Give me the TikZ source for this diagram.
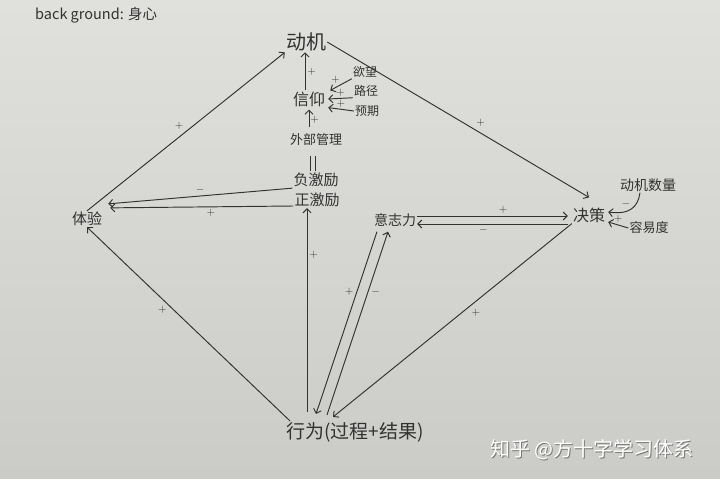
\documentclass[tikz,border=0pt]{standalone}
\usepackage{fontspec}
\setmainfont{Noto Sans CJK SC}
\usetikzlibrary{arrows.meta}
\definecolor{ink}{RGB}{50,50,50}
\definecolor{paperA}{RGB}{224,224,221}
\definecolor{paperB}{RGB}{203,203,199}
\definecolor{wmshadow}{RGB}{120,120,118}
\begin{document}
\begin{tikzpicture}[x=1pt,y=-1pt,
  txt/.style={text=ink, inner sep=1pt},
  ln/.style={draw=ink, line width=0.95pt},
  arr/.style={ln, -{Straight Barb[length=4pt,width=8pt]}},
  sg/.style={text=ink, font=\fontsize{11}{11}\selectfont, inner sep=1pt}
]
\shade[top color=paperA, bottom color=paperB] (0,0) rectangle (720,479);
\useasboundingbox (0,0) rectangle (720,479);

% nodes
\node[txt, font=\fontsize{14.5}{14.5}\selectfont, anchor=west] (bg) at (34,15) {back ground: 身心};
\node[txt, font=\fontsize{20}{20}\selectfont] (dongji) at (306,42) {动机};
\node[txt, font=\fontsize{16}{16}\selectfont] (xinyang) at (309,99) {信仰};
\node[txt, font=\fontsize{12}{12}\selectfont] (yuwang) at (365,72) {欲望};
\node[txt, font=\fontsize{12}{12}\selectfont] (lujing) at (366,91) {路径};
\node[txt, font=\fontsize{12}{12}\selectfont] (yuqi) at (367,111) {预期};
\node[txt, font=\fontsize{13}{13}\selectfont] (waibu) at (316,140) {外部管理};
\node[txt, font=\fontsize{15}{15}\selectfont] (fu) at (316,180) {负激励};
\node[txt, font=\fontsize{15}{15}\selectfont] (zheng) at (317,200) {正激励};
\node[txt, font=\fontsize{15}{15}\selectfont] (tiyan) at (87,219) {体验};
\node[txt, font=\fontsize{14}{14}\selectfont] (yizhi) at (395,220) {意志力};
\node[txt, font=\fontsize{16}{16}\selectfont] (juece) at (589,215) {决策};
\node[txt, font=\fontsize{14}{14}\selectfont] (shuliang) at (648,185) {动机数量};
\node[txt, font=\fontsize{13}{13}\selectfont] (rongyi) at (649,228) {容易度};
\node[txt, font=\fontsize{19}{19}\selectfont] (xingwei) at (355,432) {行为(过程+结果)};

% watermark
\node[font=\fontsize{20}{20}\selectfont, text=wmshadow] (wmshadow) at (593,451) {知乎 @方十字学习体系};
\node[font=\fontsize{20}{20}\selectfont, text=white] (wm) at (592,450) {知乎 @方十字学习体系};

% outer diamond
\draw[arr] (tiyan.north) -- node[sg, pos=0.5, above left=1pt] {$+$} (dongji.south west);
\draw[arr] (dongji.east) -- node[sg, pos=0.56, above right=1pt] {$+$} ([yshift=9pt]juece.north);
\draw[arr] (juece.south west) -- node[sg, pos=0.43, below right=1pt] {$+$} ([xshift=-22pt,yshift=4pt]xingwei.north);
\draw[arr] ([xshift=-65pt]xingwei.north) -- node[sg, pos=0.6, below left=0pt] {$+$} (tiyan.south);

% behaviour -> positive incentive
\draw[arr, shorten <=9pt] ([xshift=-48pt]xingwei.north) -- node[sg, pos=0.78, right=1pt] {$+$} ([xshift=-10pt]zheng.south);

% incentives -> experience
\draw[arr] (fu.south west) -- node[sg, pos=0.5, above=1pt] {$-$} ([shift={(5,-7)}]tiyan.north east);
\draw[arr] ([yshift=-6pt]zheng.west) -- node[sg, pos=0.45, below=1pt] {$+$} ([shift={(7,-3)}]tiyan.north east);

% willpower <-> decision
\draw[arr] ([yshift=4pt]yizhi.east) -- node[sg, pos=0.57, above=1pt] {$+$} ([shift={(-4,1)}]juece.west);
\draw[arr] ([shift={(-4,9)}]juece.west) -- node[sg, pos=0.56, below=1pt] {$-$} ([yshift=-4pt]yizhi.east);

% willpower <-> behaviour
\draw[arr] ([shift={(-18,4)}]yizhi.south) -- node[sg, pos=0.33, left=2pt] {$+$} ([xshift=-39pt, yshift=7pt]xingwei.north);
\draw[arr] ([xshift=-28pt,yshift=6pt]xingwei.north) -- node[sg, pos=0.67, right=2pt] {$-$} ([shift={(-7,4)}]yizhi.south);

% belief chain
\draw[arr] ([xshift=-4pt]xinyang.north) -- node[sg, pos=0.5, right=1pt] {$+$} ([xshift=-1pt]dongji.south);
\draw[arr, shorten <=6pt, shorten >=2pt] ([xshift=-7pt]waibu.north) -- node[sg, pos=0.5, right=0pt] {$+$} ([xshift=-0pt]xinyang.south);
\draw[arr] (yuwang.south west) -- node[sg, pos=0.5, above left=0pt] {$+$} ([xshift=4pt]xinyang.north east);
\draw[arr] (lujing.south west) -- node[sg, pos=0.5, above=0pt] {$+$} ([xshift=2pt]xinyang.east);
\draw[arr] (yuqi.west) -- node[sg, pos=0.5, above=0pt] {$+$} ([xshift=2pt]xinyang.south east);

% equals sign between management and incentives
\draw[ln, shorten <=9pt, shorten >=1pt] ([xshift=-6pt]waibu.south) -- ([xshift=-6pt]fu.north);
\draw[ln, shorten <=9pt, shorten >=1pt] ([xshift=-1pt]waibu.south) -- ([xshift=-1pt]fu.north);

% decision inputs
\draw[arr] ([xshift=-8pt]shuliang.south) .. controls +(-2,14) and +(22,3) .. node[sg, pos=0.5, above left=0pt] {$-$} ([shift={(2,-3)}]juece.east);
\draw[arr] (rongyi.west) -- node[sg, pos=0.5, above=1pt] {$+$} ([shift={(2,7)}]juece.east);
\end{tikzpicture}
\end{document}
